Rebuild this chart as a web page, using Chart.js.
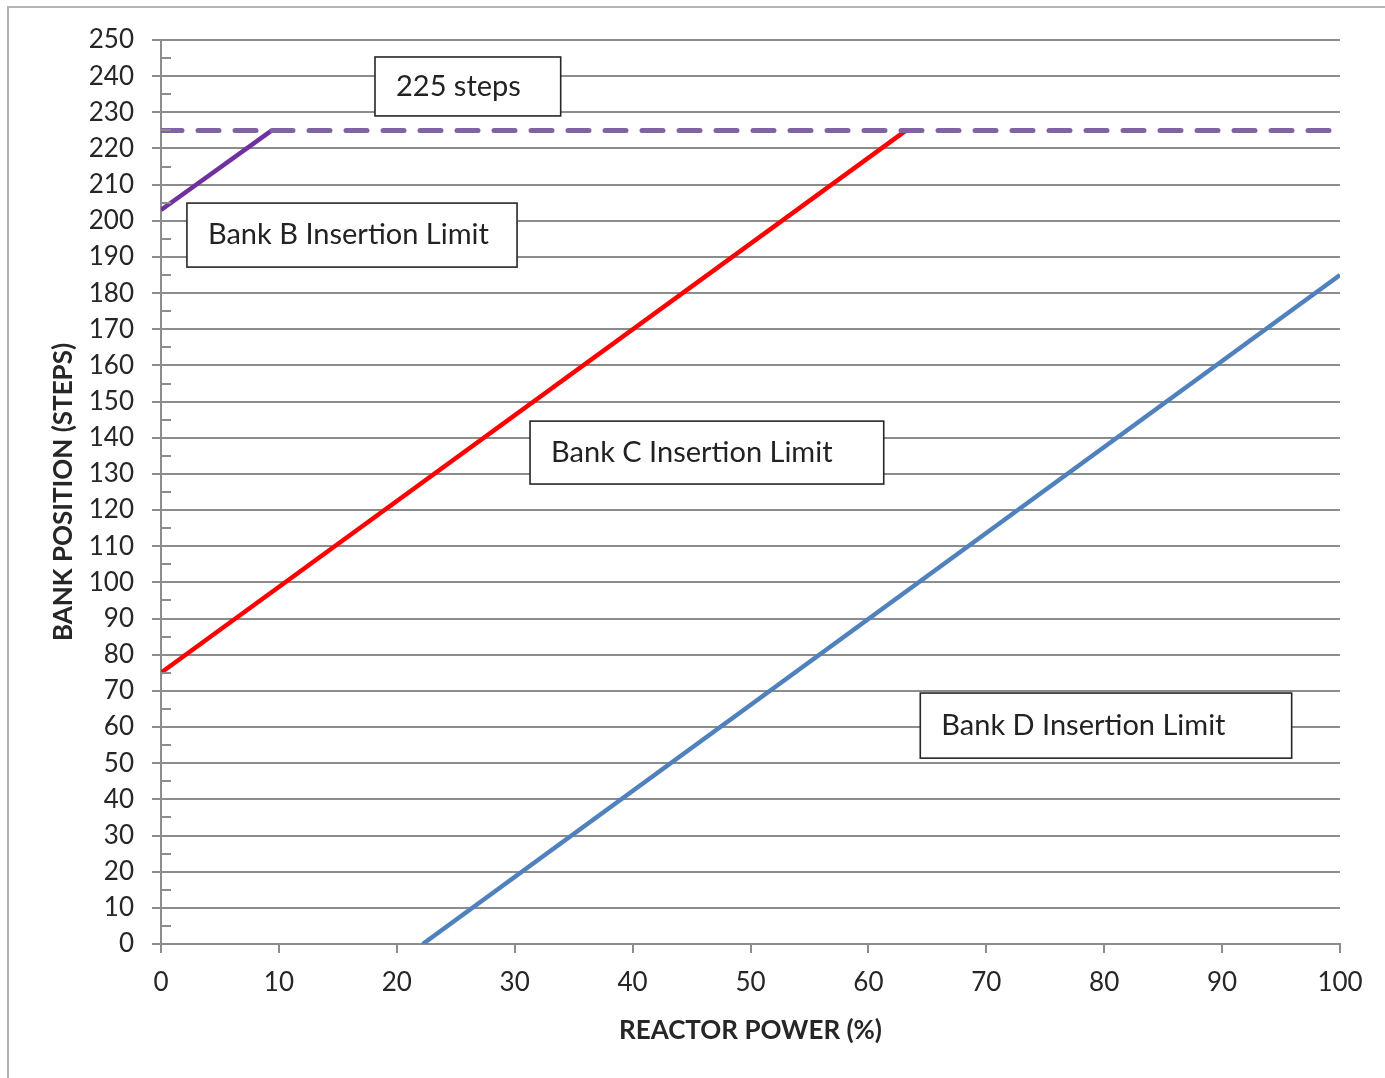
<!DOCTYPE html>
<html>
<head>
<meta charset="utf-8">
<script src="https://cdn.jsdelivr.net/npm/chart.js"></script>
<style>
  body { margin: 0; background: #fff; }
  canvas { display: block; }
</style>
</head>
<body>
<canvas id="myChart" width="1385" height="1078"></canvas>
<script>
// reactor power (%) vs bank position (steps)
var powerB = [0, 9.4];
var stepsB = [203, 225];
var powerC = [0, 63.2];
var stepsC = [75, 225];
var powerD = [22.2, 100];
var stepsD = [0, 185];
var powerTop = [0, 100];
var stepsTop = [225, 225];

var boxTexts = ['225 steps', 'Bank B Insertion Limit', 'Bank C Insertion Limit', 'Bank D Insertion Limit'];
// box corners in data units: [xMin, xMax, yMax, yMin]
var boxPlaces = [
  [18.15, 33.9, 245.3, 229],
  [2.2, 30.2, 204.9, 187.2],
  [31.3, 61.3, 144.6, 127.2],
  [64.4, 95.9, 69.4, 51.4]
];

function pts(xs, ys) {
  var out = [];
  for (var i = 0; i < xs.length; i++) out.push({x: xs[i], y: ys[i]});
  return out;
}

var FONT = 'Lato, "Open Sans", sans-serif';

var frame = {
  id: 'frame',
  beforeDraw: function(chart) {
    var ctx = chart.ctx;
    ctx.save();
    ctx.fillStyle = '#fff';
    ctx.fillRect(0, 0, chart.width, chart.height);
    ctx.strokeStyle = '#b4b4b4';
    ctx.lineWidth = 2;
    ctx.strokeRect(8, 7, chart.width + 20, chart.height + 20);
    ctx.restore();
  },
  afterDatasetsDraw: function(chart) {
    var ctx = chart.ctx, xs = chart.scales.x, ys = chart.scales.y;
    ctx.save();
    // small inside ticks on the minor steps
    ctx.strokeStyle = '#8c8c8c';
    ctx.lineWidth = 2;
    for (var v = 5; v < 250; v += 10) {
      var py = Math.round(ys.getPixelForValue(v));
      ctx.beginPath();
      ctx.moveTo(xs.left, py);
      ctx.lineTo(xs.left + 10, py);
      ctx.stroke();
    }
    // text boxes
    ctx.font = '29px ' + FONT;
    ctx.textAlign = 'left';
    ctx.textBaseline = 'middle';
    for (var i = 0; i < boxTexts.length; i++) {
      var b = boxPlaces[i];
      var x1 = xs.getPixelForValue(b[0]), x2 = xs.getPixelForValue(b[1]);
      var y1 = ys.getPixelForValue(b[2]), y2 = ys.getPixelForValue(b[3]);
      ctx.fillStyle = '#fff';
      ctx.fillRect(x1, y1, x2 - x1, y2 - y1);
      ctx.strokeStyle = '#262626';
      ctx.lineWidth = 1.6;
      ctx.strokeRect(x1, y1, x2 - x1, y2 - y1);
      ctx.fillStyle = '#222';
      ctx.fillText(boxTexts[i], x1 + 21, (y1 + y2) / 2);
    }
    ctx.restore();
  }
};

var ctx = document.getElementById('myChart').getContext('2d');
var chart = new Chart(ctx, {
  type: 'line',
  data: {
    datasets: [
      { label: '225 steps', data: pts(powerTop, stepsTop), borderColor: '#8064A2', borderWidth: 5,
        borderDash: [21, 16], borderCapStyle: 'round', pointRadius: 0 },
      { label: 'Bank B', data: pts(powerB, stepsB), borderColor: '#7030A0', borderWidth: 4.5, pointRadius: 0 },
      { label: 'Bank C', data: pts(powerC, stepsC), borderColor: '#FF0000', borderWidth: 4.5, pointRadius: 0 },
      { label: 'Bank D', data: pts(powerD, stepsD), borderColor: '#4F81BD', borderWidth: 4.5, pointRadius: 0 }
    ]
  },
  options: {
    responsive: false,
    animation: false,
    layout: { padding: { left: 0, right: 45, top: 40, bottom: 0 } },
    plugins: { legend: { display: false }, tooltip: { enabled: false } },
    scales: {
      x: {
        type: 'linear', min: 0, max: 100,
        afterFit: function(s) { s.height = 134; },
        ticks: { stepSize: 10, color: '#262626', font: { family: FONT, size: 26 }, padding: 14, maxRotation: 0 },
        grid: { drawOnChartArea: false, color: '#8c8c8c', lineWidth: 2, tickLength: 9 },
        border: { color: '#8c8c8c', width: 2 },
        title: { display: true, text: 'REACTOR POWER (%)', color: '#262626',
          font: { family: FONT, size: 26, weight: 'bold' }, padding: { bottom: 32 } }
      },
      y: {
        type: 'linear', min: 0, max: 250,
        afterFit: function(s) { s.width = 161; },
        ticks: { stepSize: 5, color: '#262626', font: { family: FONT, size: 26 }, padding: 18,
          callback: function(v) { return v % 10 === 0 ? v : ''; } },
        grid: {
          color: function(c) { return c.tick && c.tick.value % 10 === 0 ? '#8c8c8c' : '#d4d4d4'; },
          tickColor: function(c) { return c.tick && c.tick.value % 10 === 0 ? '#8c8c8c' : 'rgba(0,0,0,0)'; },
          lineWidth: 2, tickLength: 9
        },
        border: { color: '#8c8c8c', width: 2 },
        title: { display: true, text: 'BANK POSITION (STEPS)', color: '#262626',
          font: { family: FONT, size: 26, weight: 'bold' }, padding: { top: 48 } }
      }
    }
  },
  plugins: [frame]
});
</script>
</body>
</html>
